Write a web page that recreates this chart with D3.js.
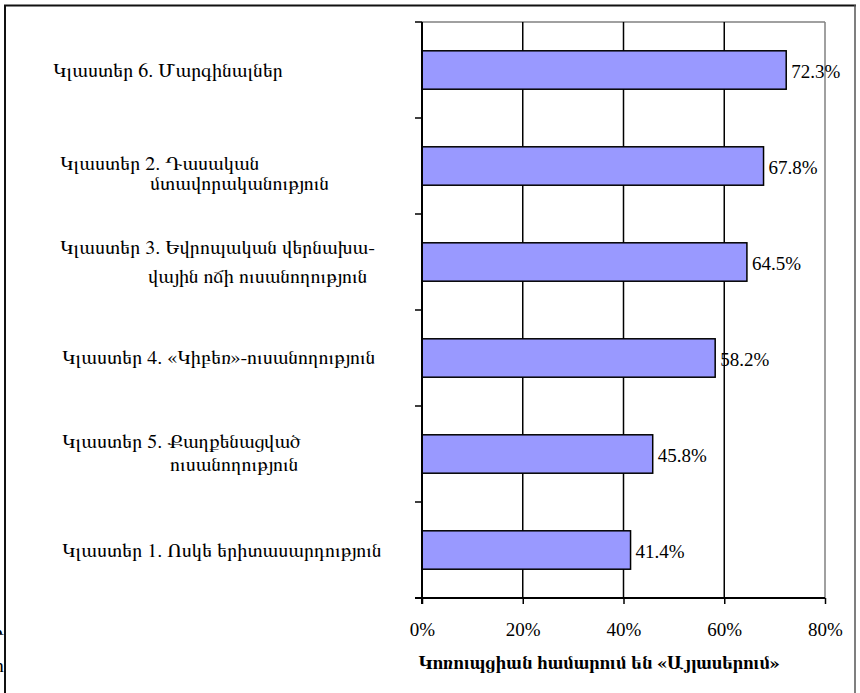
<!DOCTYPE html>
<html><head><meta charset="utf-8">
<script src="https://cdn.jsdelivr.net/npm/d3@7"></script>
<style>
html,body{margin:0;padding:0;background:#fff;}
svg{display:block;}
</style></head>
<body>
<svg id="chart" width="860" height="693"></svg>
<script>
// ---- data ----
const categories = [
  ["Կլաստեր 6. Մարգինալներ"],
  ["Կլաստեր 2. Դասական", "մտավորականություն"],
  ["Կլաստեր 3. Եվրոպական վերնախա-", "վային ոճի ուսանողություն"],
  ["Կլաստեր 4. «Կիբեռ»-ուսանողություն"],
  ["Կլաստեր 5. Քաղքենացված", "ուսանողություն"],
  ["Կլաստեր 1. Ոսկե երիտասարդություն"]
];
const values = [72.3, 67.8, 64.5, 58.2, 45.8, 41.4];
const xTicks = [0, 20, 40, 60, 80];
const axisTitle = "Կոռուպցիան համարում են «Այլասերում»";

// ---- layout (label line placement: [x, dy of baseline from band center]) ----
const labelLayout = [
  [[53, 7]],
  [[60, 4], [150, 24]],
  [[60, -8], [148, 21]],
  [[62, 6]],
  [[62, -6], [170, 17]],
  [[62, 7]]
];
const FONT = '"Liberation Serif", FreeSerif, serif';
const AFONT = 'FreeSerif, "Liberation Serif", serif';

const svg = d3.select("#chart");
const m = {left: 422, right: 825, top: 22, bottom: 598};

const x = d3.scaleLinear().domain([0, 80]).range([m.left, m.right]);
const y = d3.scaleBand().domain(d3.range(values.length)).range([m.top, m.bottom]).paddingInner(0.6).paddingOuter(0.3);

// outer frame
svg.append("line").attr("x1",4).attr("x2",856).attr("y1",5.5).attr("y2",5.5).attr("stroke","#111").attr("stroke-width",2);
svg.append("line").attr("x1",5).attr("x2",5).attr("y1",5).attr("y2",700).attr("stroke","#111").attr("stroke-width",2);
svg.append("line").attr("x1",855).attr("x2",855).attr("y1",5).attr("y2",700).attr("stroke","#555").attr("stroke-width",1.5);

// clipped text fragments outside the frame on the left (as in the reference)
svg.append("text").attr("x",4).attr("y",639).attr("text-anchor","end").attr("font-size",20).attr("font-family",AFONT).text("Ի");
svg.append("text").attr("x",4).attr("y",672).attr("text-anchor","end").attr("font-size",20).attr("font-family",AFONT).text("ր");

// plot area border (gray)
svg.append("line").attr("x1",m.left).attr("x2",m.right).attr("y1",m.top).attr("y2",m.top).attr("stroke","#808080").attr("stroke-width",1.5);
svg.append("line").attr("x1",m.right).attr("x2",m.right).attr("y1",m.top).attr("y2",m.bottom).attr("stroke","#808080").attr("stroke-width",1.5);

// gridlines
svg.append("g").selectAll("line").data(xTicks.filter(d => d > 0 && d < 80)).join("line")
  .attr("x1", d => x(d)).attr("x2", d => x(d)).attr("y1", m.top).attr("y2", m.bottom)
  .attr("stroke", "#000").attr("stroke-width", 1.5);

// bars
svg.append("g").selectAll("rect").data(values).join("rect")
  .attr("x", x(0)).attr("y", (d, i) => y(i))
  .attr("width", d => x(d) - x(0)).attr("height", y.bandwidth())
  .attr("fill", "#9999ff").attr("stroke", "#000").attr("stroke-width", 1.5);

// value labels
svg.append("g").selectAll("text").data(values).join("text")
  .attr("x", d => x(d) + 5).attr("y", (d, i) => y(i) + y.bandwidth() / 2 + 8)
  .attr("font-size", 19).attr("font-family", FONT).attr("fill", "#000")
  .text(d => d.toFixed(1) + "%");

// x axis
const xAxis = d3.axisBottom(x).tickValues(xTicks).tickFormat(d => d + "%").tickSize(6).tickSizeOuter(0);
const gx = svg.append("g").attr("transform", `translate(0,${m.bottom})`).call(xAxis)
  .attr("font-family", FONT).attr("font-size", 19);
gx.select(".domain").remove();
gx.selectAll(".tick line").attr("stroke", "#000").attr("stroke-width", 1.5);
gx.selectAll(".tick text").attr("dy", 0).attr("y", 38).attr("fill", "#000");
svg.append("line").attr("x1", m.left - 7).attr("x2", m.right).attr("y1", m.bottom).attr("y2", m.bottom).attr("stroke", "#000").attr("stroke-width", 2);

// y axis ticks (at band boundaries)
const yBounds = d3.range(values.length + 1).map(i => m.top + i * y.step());
svg.append("g").selectAll("line").data(yBounds).join("line")
  .attr("x1", m.left - 7).attr("x2", m.left).attr("y1", d => d).attr("y2", d => d)
  .attr("stroke", "#000").attr("stroke-width", 1.5);
svg.append("line").attr("x1", m.left).attr("x2", m.left).attr("y1", m.top).attr("y2", m.bottom + 6).attr("stroke", "#000").attr("stroke-width", 2);

// category labels
const lg = svg.append("g").attr("font-family", AFONT).attr("font-size", 20).attr("fill", "#000");
categories.forEach((lines, i) => {
  const cy = y(i) + y.bandwidth() / 2;
  lines.forEach((t, j) => {
    const [lx, dy] = labelLayout[i][j];
    lg.append("text").attr("x", lx).attr("y", cy + dy).text(t);
  });
});

// axis title
svg.append("text").attr("x", 599).attr("y", 669).attr("text-anchor", "middle")
  .attr("font-family", AFONT).attr("font-size", 19).attr("font-weight", "bold").attr("fill", "#000")
  .text(axisTitle);
</script>
</body></html>
